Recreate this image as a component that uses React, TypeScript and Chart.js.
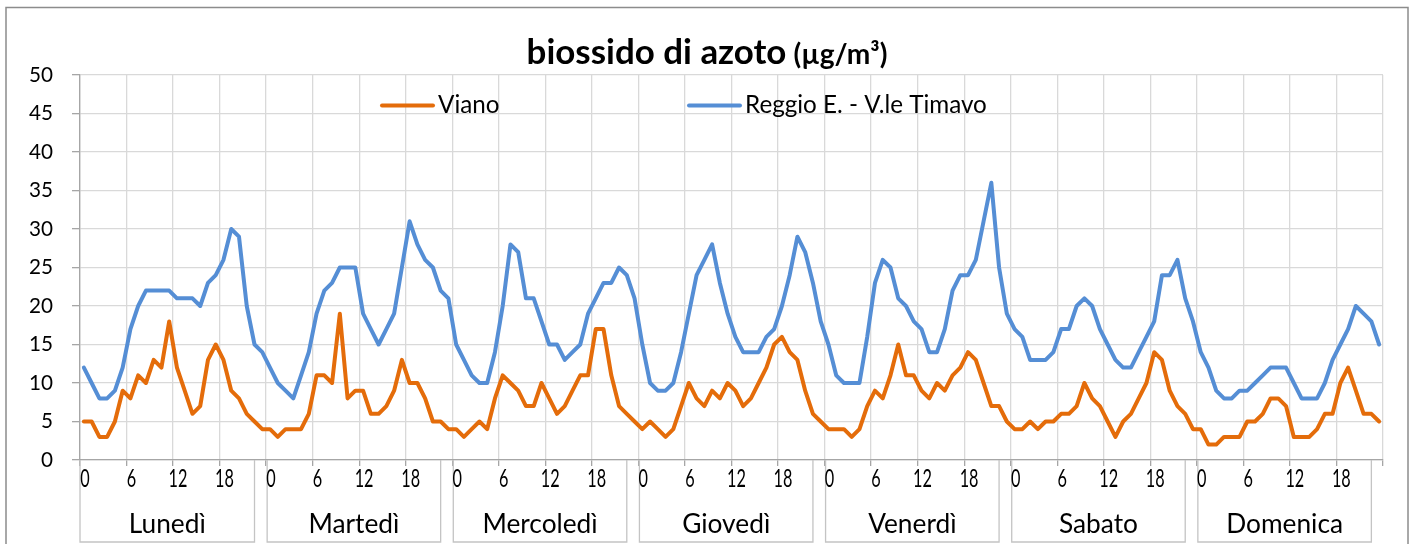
import React, { useEffect, useRef } from 'react';
import { Chart, registerables } from 'chart.js';

Chart.register(...registerables);

const titleMain = 'biossido di azoto';
const titleUnit = '(µg/m³)';
const dayNames = ['Lunedì', 'Martedì', 'Mercoledì', 'Giovedì', 'Venerdì', 'Sabato', 'Domenica'];
const hours = [0, 1, 2, 3, 4, 5, 6, 7, 8, 9, 10, 11, 12, 13, 14, 15, 16, 17, 18, 19, 20, 21, 22, 23];
const hourTickLabels = [0, 6, 12, 18];
const seriesNames = ['Viano', 'Reggio E. - V.le Timavo'];
const seriesColors = ['#E46C0A', '#558ED5'];

const vianoLun = [5, 5, 3, 3, 5, 9, 8, 11, 10, 13, 12, 18, 12, 9, 6, 7, 13, 15, 13, 9, 8, 6, 5, 4];
const vianoMar = [4, 3, 4, 4, 4, 6, 11, 11, 10, 19, 8, 9, 9, 6, 6, 7, 9, 13, 10, 10, 8, 5, 5, 4];
const vianoMer = [4, 3, 4, 5, 4, 8, 11, 10, 9, 7, 7, 10, 8, 6, 7, 9, 11, 11, 17, 17, 11, 7, 6, 5];
const vianoGio = [4, 5, 4, 3, 4, 7, 10, 8, 7, 9, 8, 10, 9, 7, 8, 10, 12, 15, 16, 14, 13, 9, 6, 5];
const vianoVen = [4, 4, 4, 3, 4, 7, 9, 8, 11, 15, 11, 11, 9, 8, 10, 9, 11, 12, 14, 13, 10, 7, 7, 5];
const vianoSab = [4, 4, 5, 4, 5, 5, 6, 6, 7, 10, 8, 7, 5, 3, 5, 6, 8, 10, 14, 13, 9, 7, 6, 4];
const vianoDom = [4, 2, 2, 3, 3, 3, 5, 5, 6, 8, 8, 7, 3, 3, 3, 4, 6, 6, 10, 12, 9, 6, 6, 5];

const reggioLun = [12, 10, 8, 8, 9, 12, 17, 20, 22, 22, 22, 22, 21, 21, 21, 20, 23, 24, 26, 30, 29, 20, 15, 14];
const reggioMar = [12, 10, 9, 8, 11, 14, 19, 22, 23, 25, 25, 25, 19, 17, 15, 17, 19, 25, 31, 28, 26, 25, 22, 21];
const reggioMer = [15, 13, 11, 10, 10, 14, 20, 28, 27, 21, 21, 18, 15, 15, 13, 14, 15, 19, 21, 23, 23, 25, 24, 21];
const reggioGio = [15, 10, 9, 9, 10, 14, 19, 24, 26, 28, 23, 19, 16, 14, 14, 14, 16, 17, 20, 24, 29, 27, 23, 18];
const reggioVen = [15, 11, 10, 10, 10, 16, 23, 26, 25, 21, 20, 18, 17, 14, 14, 17, 22, 24, 24, 26, 31, 36, 25, 19];
const reggioSab = [17, 16, 13, 13, 13, 14, 17, 17, 20, 21, 20, 17, 15, 13, 12, 12, 14, 16, 18, 24, 24, 26, 21, 18];
const reggioDom = [14, 12, 9, 8, 8, 9, 9, 10, 11, 12, 12, 12, 10, 8, 8, 8, 10, 13, 15, 17, 20, 19, 18, 15];

const vianoByDay = [vianoLun, vianoMar, vianoMer, vianoGio, vianoVen, vianoSab, vianoDom];
const reggioByDay = [reggioLun, reggioMar, reggioMer, reggioGio, reggioVen, reggioSab, reggioDom];

const yMin = 0;
const yMax = 50;
const yStep = 5;

const FONT = 'Lato, "Open Sans", "DejaVu Sans", sans-serif';
const GRID = '#d9d9d9';
const AXIS = '#a6a6a6';

function fitSize(text: string, weight: string, target: number): number {
  const c = document.createElement('canvas').getContext('2d')!;
  c.font = `${weight} 100px ${FONT}`;
  return (100 * target) / c.measureText(text).width;
}

export default function App() {
  const ref = useRef<HTMLCanvasElement>(null);

  useEffect(() => {
    document.body.style.margin = '0';
    const canvas = ref.current!;
    const ySize = fitSize('50', '400', 24);
    const legendSize = fitSize(seriesNames[1], '400', 242);
    const daySize = fitSize('Lunedì', '400', 77);
    const titleSize = fitSize(titleMain, '700', 260);
    const unitSize = fitSize(titleUnit, '700', 94);

    const labels = dayNames.flatMap((d) => hours.map((h) => `${d} ${h}`));
    const viano = vianoByDay.flat();
    const reggio = reggioByDay.flat();

    const everySix = (c: any, col: string) =>
      c.index === undefined || c.index % 6 === 0 ? col : 'rgba(0,0,0,0)';

    const decor = {
      id: 'decor',
      afterDraw(chart: any) {
        const { ctx } = chart;
        const x = chart.scales.x;
        ctx.save();
        // outer frame
        ctx.strokeStyle = '#8c8c8c';
        ctx.lineWidth = 1.5;
        ctx.strokeRect(6, 7.5, 1402, 600);

        // title
        ctx.fillStyle = '#000';
        ctx.textBaseline = 'alphabetic';
        ctx.textAlign = 'left';
        ctx.font = `700 ${titleSize}px ${FONT}`;
        const w1 = ctx.measureText(titleMain).width;
        ctx.font = `700 ${unitSize}px ${FONT}`;
        const w2 = ctx.measureText(titleUnit).width;
        const gap = 7;
        const tx = chart.width / 2 - (w1 + gap + w2) / 2;
        ctx.font = `700 ${titleSize}px ${FONT}`;
        ctx.fillText(titleMain, tx, 63.5);
        ctx.font = `700 ${unitSize}px ${FONT}`;
        ctx.fillText(titleUnit, tx + w1 + gap, 63.5);

        // legend
        const legendX = [380, 687];
        seriesNames.forEach((n, i) => {
          ctx.strokeStyle = seriesColors[i];
          ctx.lineWidth = 4;
          ctx.lineCap = 'round';
          ctx.beginPath();
          ctx.moveTo(legendX[i] + 2, 105.5);
          ctx.lineTo(legendX[i] + 53, 105.5);
          ctx.stroke();
          ctx.font = `400 ${legendSize}px ${FONT}`;
          ctx.fillStyle = '#000';
          ctx.textAlign = 'left';
          ctx.fillText(n, legendX[i] + 58, 113);
        });

        // day boxes + hour labels
        const step = (x.right - x.left) / labels.length;
        ctx.lineCap = 'butt';
        dayNames.forEach((d, di) => {
          const x0 = x.left + di * 24 * step + (di ? 1 : 0);
          const x1 = x.getPixelForValue(di * 24 + 22);
          const y0 = x.top;
          const y1 = 542;
          ctx.strokeStyle = '#c4c4c4';
          ctx.lineWidth = 1.3;
          ctx.beginPath();
          ctx.moveTo(x0, y0);
          ctx.lineTo(x0, y1);
          ctx.lineTo(x1, y1);
          ctx.lineTo(x1, y0);
          ctx.stroke();

          ctx.fillStyle = '#000';
          ctx.font = `400 25px ${FONT}`;
          ctx.textAlign = 'center';
          hourTickLabels.forEach((h) => {
            const cx = x.getPixelForValue(di * 24 + h) + 1;
            ctx.save();
            ctx.translate(cx, 486.5);
            ctx.scale(0.65, 1);
            ctx.fillText(String(h), 0, 0);
            ctx.restore();
          });

          ctx.font = `400 ${daySize}px ${FONT}`;
          ctx.textAlign = 'center';
          ctx.fillText(d, (x0 + x1) / 2, 533);
        });
        ctx.restore();
      },
    };

    const chart = new Chart(canvas, {
      type: 'line',
      data: {
        labels,
        datasets: [
          {
            label: seriesNames[0],
            data: viano,
            borderColor: seriesColors[0],
            backgroundColor: seriesColors[0],
            borderWidth: 4,
            pointRadius: 0,
            tension: 0,
            borderJoinStyle: 'round',
            borderCapStyle: 'round',
          },
          {
            label: seriesNames[1],
            data: reggio,
            borderColor: seriesColors[1],
            backgroundColor: seriesColors[1],
            borderWidth: 4,
            pointRadius: 0,
            tension: 0,
            borderJoinStyle: 'round',
            borderCapStyle: 'round',
          },
        ],
      },
      options: {
        responsive: false,
        animation: false,
        devicePixelRatio: 1,
        layout: { padding: { top: 75, right: 31, bottom: 0, left: 0 } },
        plugins: {
          legend: { display: false },
          title: { display: false },
          tooltip: { enabled: false },
        },
        scales: {
          x: {
            type: 'category',
            offset: true,
            grid: {
              offset: true,
              color: (c: any) => everySix(c, GRID),
              tickColor: (c: any) => everySix(c, AXIS),
              lineWidth: 1.3,
              tickWidth: 1.3,
              tickLength: 6,
              drawTicks: true,
            },
            border: { display: true, color: AXIS, width: 1.3 },
            ticks: { display: false, autoSkip: false },
            afterFit: (s: any) => {
              s.height = 84;
            },
          },
          y: {
            min: yMin,
            max: yMax,
            ticks: {
              stepSize: yStep,
              color: '#000',
              font: { family: FONT, size: ySize },
              padding: 19,
            },
            grid: {
              color: GRID,
              lineWidth: 1.3,
              tickLength: 8,
              tickColor: AXIS,
              tickWidth: 1.3,
            },
            border: { display: true, color: AXIS, width: 1.3 },
            afterFit: (s: any) => {
              s.width = 80;
            },
          },
        },
      },
      plugins: [decor],
    } as any);

    return () => chart.destroy();
  }, []);

  return (
    <div style={{ width: 1414, height: 544, background: '#fff' }}>
      <canvas ref={ref} width={1414} height={544} style={{ display: 'block' }} />
    </div>
  );
}
